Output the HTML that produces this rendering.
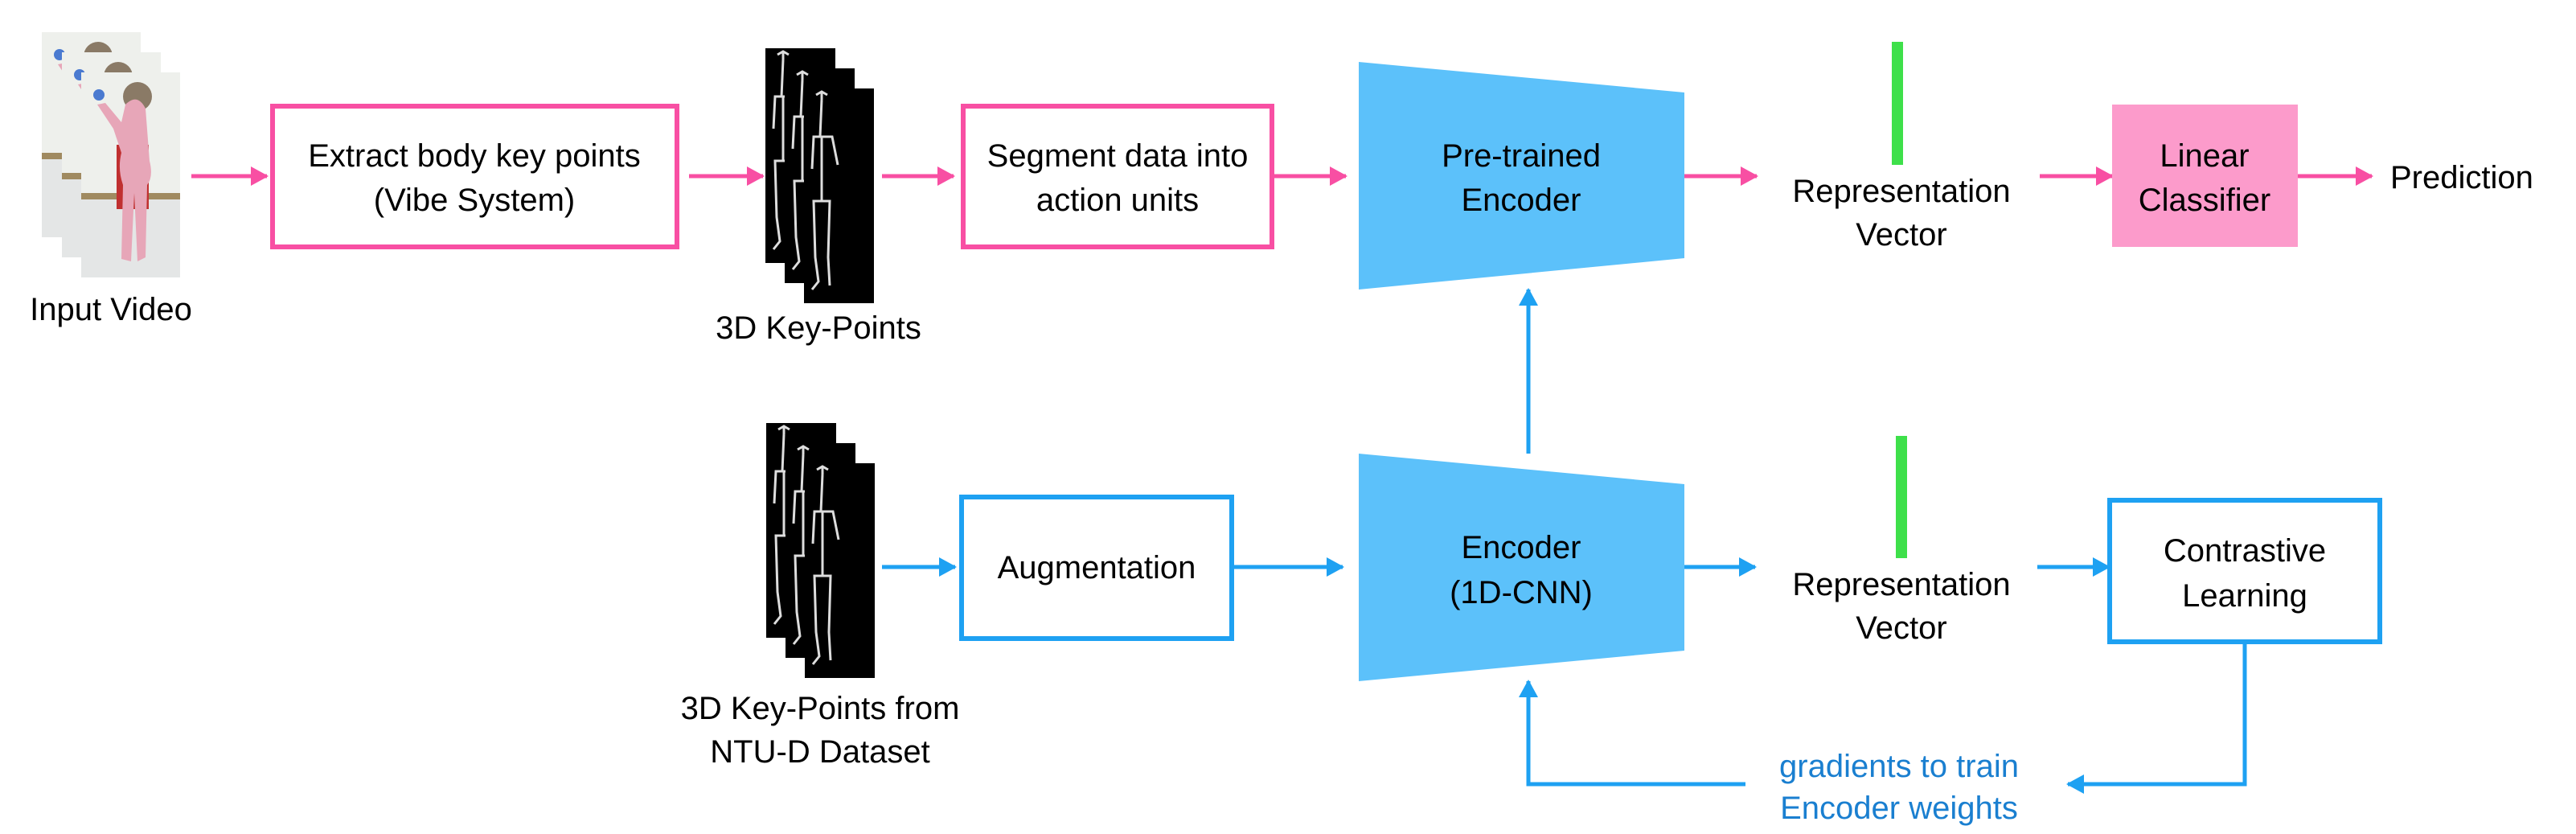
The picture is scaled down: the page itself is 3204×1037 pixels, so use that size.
<!DOCTYPE html>
<html><head><meta charset="utf-8"><style>
html,body{margin:0;padding:0;background:#fff;}
svg{display:block}
text{font-family:"Liberation Sans",sans-serif;font-size:40px;fill:#000;}
</style></head><body>
<svg width="3204" height="1037" viewBox="0 0 3204 1037" xmlns="http://www.w3.org/2000/svg">
<defs>
<marker id="pa" markerWidth="22" markerHeight="24" refX="20" refY="12" orient="auto" markerUnits="userSpaceOnUse" viewBox="0 0 22 24"><path d="M0,0 L22,12 L0,24 Z" fill="#f84fa3"/></marker>
<marker id="ba" markerWidth="22" markerHeight="24" refX="20" refY="12" orient="auto" markerUnits="userSpaceOnUse" viewBox="0 0 22 24"><path d="M0,0 L22,12 L0,24 Z" fill="#1ea1f2"/></marker>
<g id="frame">
<rect x="0" y="0" width="123" height="255" fill="#eef0ec"/>
<rect x="0" y="150" width="123" height="8" fill="#a08a60"/>
<rect x="0" y="158" width="123" height="97" fill="#e4e6e6"/>
<circle cx="70" cy="30" r="18" fill="#8a7a66"/>
<rect x="44" y="90" width="40" height="80" fill="#c03030"/>
<path d="M55,40 Q70,25 80,45 L85,110 Q90,130 82,140 L80,230 L70,235 L66,150 L62,235 L50,232 L52,140 Q45,120 50,100 L40,70 L20,40 L30,38 L50,62 Z" fill="#e7a6b8"/>
<circle cx="22" cy="28" r="7" fill="#4a7ad0"/>
</g>
<g id="skel">
<rect x="0" y="0" width="87" height="267" fill="#000"/>
<g stroke="#ddd" stroke-width="3" fill="none">
<path d="M15,8 L22,4 L29,8 M22,4 L22,14"/>
<path d="M22,14 L20,60 L12,60 L10,100 M20,60 L35,60 L42,95 M22,60 L22,140 L12,140 L14,210 L18,240 L10,250 M22,140 L32,140 L30,210 L32,245"/>
</g>
</g>
<g id="skstack">
<use href="#skel" x="0" y="0"/>
<use href="#skel" x="24" y="25"/>
<use href="#skel" x="48" y="50"/>
</g>
</defs>

<use href="#frame" x="52" y="40"/>
<use href="#frame" x="77" y="65"/>
<use href="#frame" x="101" y="90"/>
<text x="138" y="398" text-anchor="middle">Input Video</text>

<g stroke="#f84fa3" stroke-width="5" fill="none">
<line x1="238" y1="219" x2="332" y2="219" marker-end="url(#pa)"/>
<rect x="339" y="132" width="503" height="175" stroke-width="6"/>
<line x1="857" y1="219" x2="949" y2="219" marker-end="url(#pa)"/>
<line x1="1097" y1="219" x2="1186" y2="219" marker-end="url(#pa)"/>
<rect x="1198" y="132" width="384" height="175" stroke-width="6"/>
<line x1="1585" y1="219" x2="1674" y2="219" marker-end="url(#pa)"/>
<line x1="2095" y1="219" x2="2185" y2="219" marker-end="url(#pa)"/>
<line x1="2537" y1="219" x2="2627" y2="219" marker-end="url(#pa)"/>
<line x1="2858" y1="219" x2="2950" y2="219" marker-end="url(#pa)"/>
</g>
<text x="590" y="207" text-anchor="middle">Extract body key points</text>
<text x="590" y="262" text-anchor="middle">(Vibe System)</text>
<use href="#skstack" x="952" y="60"/>
<text x="1018" y="421" text-anchor="middle">3D Key-Points</text>
<text x="1390" y="207" text-anchor="middle">Segment data into</text>
<text x="1390" y="262" text-anchor="middle">action units</text>

<polygon points="1690,77 2095,115 2095,321 1690,360" fill="#5cc1fa"/>
<text x="1892" y="207" text-anchor="middle">Pre-trained</text>
<text x="1892" y="262" text-anchor="middle">Encoder</text>

<rect x="2353" y="52" width="14" height="153" fill="#3ee04a"/>
<text x="2365" y="251" text-anchor="middle">Representation</text>
<text x="2365" y="305" text-anchor="middle">Vector</text>

<rect x="2627" y="130" width="231" height="177" fill="#fc9bcb"/>
<text x="2742" y="207" text-anchor="middle">Linear</text>
<text x="2742" y="262" text-anchor="middle">Classifier</text>
<text x="2973" y="234">Prediction</text>

<use href="#skstack" x="953" y="526"/>
<text x="1020" y="894" text-anchor="middle">3D Key-Points from</text>
<text x="1020" y="948" text-anchor="middle">NTU-D Dataset</text>

<g stroke="#1ea1f2" stroke-width="5" fill="none">
<line x1="1097" y1="705" x2="1188" y2="705" marker-end="url(#ba)"/>
<rect x="1196" y="618" width="336" height="176" stroke-width="6"/>
<line x1="1535" y1="705" x2="1670" y2="705" marker-end="url(#ba)"/>
<line x1="2091" y1="705" x2="2183" y2="705" marker-end="url(#ba)"/>
<line x1="2534" y1="705" x2="2623" y2="705" marker-end="url(#ba)"/>
<rect x="2624" y="622" width="336" height="176" stroke-width="6"/>
<line x1="1901" y1="564" x2="1901" y2="360" marker-end="url(#ba)"/>
<polyline points="2792,798 2792,975 2572,975" marker-end="url(#ba)"/>
<polyline points="2171,975 1901,975 1901,847" marker-end="url(#ba)"/>
</g>
<text x="1364" y="719" text-anchor="middle">Augmentation</text>
<polygon points="1690,564 2095,602 2095,809 1690,847" fill="#5cc1fa"/>
<text x="1892" y="694" text-anchor="middle">Encoder</text>
<text x="1892" y="750" text-anchor="middle">(1D-CNN)</text>
<rect x="2358" y="542" width="14" height="152" fill="#3ee04a"/>
<text x="2365" y="740" text-anchor="middle">Representation</text>
<text x="2365" y="794" text-anchor="middle">Vector</text>
<text x="2792" y="698" text-anchor="middle">Contrastive</text>
<text x="2792" y="754" text-anchor="middle">Learning</text>
<text x="2362" y="966" text-anchor="middle" style="fill:#1a7fd0">gradients to train</text>
<text x="2362" y="1018" text-anchor="middle" style="fill:#1a7fd0">Encoder weights</text>
</svg>
</body></html>
